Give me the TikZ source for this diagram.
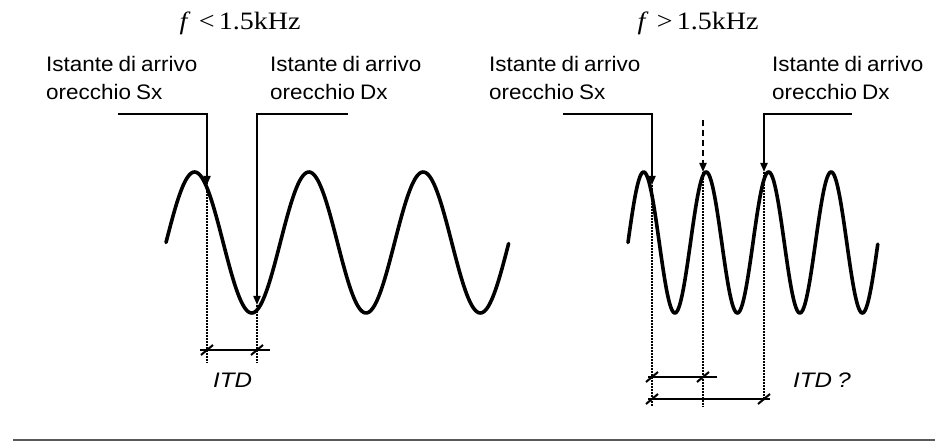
\documentclass[tikz,border=0pt]{standalone}
\usepackage{fontspec}
\usetikzlibrary{arrows.meta}
\newfontfamily\labfont[FakeStretch=1.07,WordSpace=0.8]{Liberation Sans}
\newfontfamily\itdfont[FakeStretch=1.15,WordSpace=0.8]{Liberation Sans}
\newfontfamily\ttlfont[FakeStretch=1.12]{Liberation Serif}
\begin{document}
\begin{tikzpicture}[x=1pt,y=-1pt,
  lab/.style={font=\labfont\fontsize{21}{25}\selectfont, inner sep=0pt, anchor=base west},
  itd/.style={font=\itdfont\itshape\fontsize{21}{25}\selectfont, inner sep=0pt, anchor=base west},
  ttl/.style={font=\ttlfont\fontsize{25}{30}\selectfont, inner sep=0pt, anchor=base},
  wave/.style={line width=3.6pt, line cap=round, line join=round},
  conn/.style={line width=2pt, -{Triangle[length=9pt,width=7pt]}},
  dconn/.style={line width=2pt, dash pattern=on 6pt off 4pt, -{Triangle[length=9pt,width=7pt]}},
  dots/.style={line width=2.5pt, dash pattern=on 2pt off 1pt},
  dim/.style={line width=2.2pt},
  tick/.style={line width=2pt}]
\useasboundingbox (0,0) rectangle (935,443);

% titles
\node[ttl] (t1) at (240,30) {\textit{f}\,\,<\,1.5kHz};
\node[ttl] (t2) at (698,30) {\textit{f}\,\,>\,1.5kHz};

% labels left
\node[lab] (l1a) at (46,72) {Istante di arrivo};
\node[lab] (l1b) at (46,100) {orecchio Sx};
\node[lab] (l2a) at (270,72) {Istante di arrivo};
\node[lab] (l2b) at (270,100) {orecchio Dx};
% labels right
\node[lab] (r1a) at (489,72) {Istante di arrivo};
\node[lab] (r1b) at (489,100) {orecchio Sx};
\node[lab] (r2a) at (772,72) {Istante di arrivo};
\node[lab] (r2b) at (772,100) {orecchio Dx};

% waves
\draw[wave] plot[domain=0:3, samples=240, smooth] ({166+114.3*\x},{242.5-70.5*sin(360*\x)});
\draw[wave] plot[domain=0:4, samples=320, smooth] ({628+62.5*\x},{242.5-70.5*sin(360*\x)});

% left panel coordinates
\coordinate (LSs) at (118,114);
\coordinate (LSc) at (207,114);
\coordinate (LSt) at (207,185);
\coordinate (LDs) at (348,114);
\coordinate (LDc) at (257,114);
\coordinate (LDt) at (257,305);
\coordinate (LSd1) at (207,137);
\coordinate (LSd2) at (207,363);
\coordinate (LDd2) at (257,363);
\coordinate (LM1) at (200,350);
\coordinate (LM2) at (270,350);

\draw[dots] (LSd1) -- (LSd2);
\draw[dots] (LDt) -- (LDd2);
\draw[conn] (LSs) -- (LSc) -- (LSt);
\draw[conn] (LDs) -- (LDc) -- (LDt);
\draw[dim] (LM1) -- (LM2);
\draw[tick] ([shift={(-6,5)}]LSd2 |- LM1) -- ([shift={(6,-5)}]LSd2 |- LM1);
\draw[tick] ([shift={(-6,5)}]LDd2 |- LM1) -- ([shift={(6,-5)}]LDd2 |- LM1);
\node[itd] (itd1) at (213,388) {ITD};

% right panel coordinates
\coordinate (RSs) at (563,114);
\coordinate (RSc) at (652,114);
\coordinate (RSt) at (652,185);
\coordinate (RDs) at (852,114);
\coordinate (RDc) at (764,114);
\coordinate (RDt) at (764,172);
\coordinate (RMs) at (703,120);
\coordinate (RMt) at (703,172);
\coordinate (RSd1) at (652,185);
\coordinate (RSd2) at (652,406);
\coordinate (RMd2) at (703,407);
\coordinate (RDd2) at (764,400);
\coordinate (RU1) at (648,377);
\coordinate (RU2) at (717,377);
\coordinate (RL1) at (648,399);
\coordinate (RL2) at (770,399);

\draw[dots] (RSd1) -- (RSd2);
\draw[dots] (RMt) -- (RMd2);
\draw[dots] (RDt) -- (RDd2);
\draw[conn] (RSs) -- (RSc) -- (RSt);
\draw[conn] (RDs) -- (RDc) -- (RDt);
\draw[dconn] (RMs) -- (RMt);
\draw[dim] (RU1) -- (RU2);
\draw[dim] (RL1) -- (RL2);
\draw[tick] ([shift={(-6,5)}]RSd2 |- RU1) -- ([shift={(6,-5)}]RSd2 |- RU1);
\draw[tick] ([shift={(-6,5)}]RMd2 |- RU1) -- ([shift={(6,-5)}]RMd2 |- RU1);
\draw[tick] ([shift={(-6,5)}]RSd2 |- RL1) -- ([shift={(6,-5)}]RSd2 |- RL1);
\draw[tick] ([shift={(-6,5)}]RDd2 |- RL1) -- ([shift={(6,-5)}]RDd2 |- RL1);
\node[itd] (itd2) at (793,388) {ITD ?};

% bottom rule
\coordinate (B1) at (13,440);
\coordinate (B2) at (935,440);
\draw[line width=2.2pt, draw=black!65] (B1) -- (B2);
\end{tikzpicture}
\end{document}
